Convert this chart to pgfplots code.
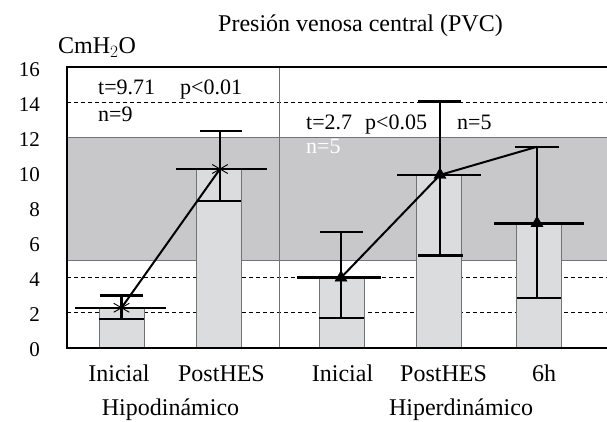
\documentclass[border=0pt]{standalone}
\usepackage{pgfplots}
\pgfplotsset{compat=1.18}
\usepackage{fontspec}
\setmainfont{Liberation Serif}
\definecolor{band}{RGB}{200,200,202}
\definecolor{barfill}{RGB}{219,220,222}
\definecolor{baredge}{RGB}{115,115,115}
\begin{document}
\begin{tikzpicture}
\useasboundingbox (0,0) rectangle (607pt,421pt);
\begin{axis}[
  at={(67pt,73.5pt)}, anchor=south west,
  scale only axis, width=540pt, height=280pt,
  xmin=67, xmax=607, ymin=0, ymax=16,
  clip=false,
  axis line style={draw=none},
  tick style={draw=none},
  xtick=\empty,
  ytick={0,2,...,16},
  /pgf/number format/assume math mode=true,
  yticklabel style={font=\fontsize{21}{25}\selectfont, anchor=east, inner sep=0pt, xshift=-27pt, yshift=-2pt},
  unbounded coords=jump,
]
% reference band
\addplot[fill=band, draw=baredge, line width=0.8pt] coordinates {(67,5) (607,5) (607,12) (67,12)} -- cycle;
% dashed reference lines
\draw[black, line width=0.8pt, dash pattern=on 4pt off 3pt] (67,2) -- (607,2);
\draw[black, line width=0.8pt, dash pattern=on 4pt off 3pt] (67,4) -- (607,4);
\draw[black, line width=0.8pt, dash pattern=on 4pt off 3pt] (67,14) -- (607,14);
% separator
\draw[baredge, line width=1pt] (279.5,0) -- (279.5,16);
% bars
\addplot[ybar, bar width=45, fill=barfill, draw=baredge, line width=1pt]
  coordinates {(121.5,2.27) (219,10.2) (341.5,3.99) (438.5,9.86) (539,7.1)};
% mean lines
\addplot[draw=none, mark=none, error bars/.cd, x dir=both, x explicit, error mark=none,
  error bar style={line width=2.5pt, black}]
  coordinates {(120.5,2.27) +- (45.5,0) (221.5,10.2) +- (45.5,0) (339,3.99) +- (42,0) (439,9.86) +- (42,0) (539,7.1) +- (45,0)};
% error bars: vertical stems
\addplot[black, line width=2.5pt, mark=none]
  coordinates {(121.5,1.63) (121.5,2.96) (121.5,nan)
               (220,8.37) (220,12.37) (220,nan)
               (341,1.70) (341,6.60) (341,nan)
               (440,5.25) (440,14.07) (440,nan)
               (537,2.83) (537,11.47)};
% error bars: caps
\addplot[black, line width=2.5pt, mark=none]
  coordinates {(100,2.96) (143,2.96) (0,nan) (99,1.63) (144,1.63) (0,nan)
               (200,12.37) (242,12.37) (0,nan) (197,8.37) (241,8.37) (0,nan)
               (320,6.60) (363,6.60) (0,nan) (319,1.70) (364,1.70) (0,nan)
               (418,14.07) (461,14.07) (0,nan) (418,5.25) (463,5.25) (0,nan)
               (515,11.47) (559,11.47) (0,nan) (517,2.83) (561,2.83)};
% connecting lines
\addplot[black, line width=2pt, mark=asterisk, mark size=9pt, mark options={line width=0.9pt}]
  coordinates {(121.5,2.27) (220,10.2)};
\addplot[black, line width=2pt, mark=none]
  coordinates {(341,3.99) (440,9.86) (537,11.47)};
\addplot[only marks, mark=triangle*, mark size=7pt, black]
  coordinates {(341,3.99) (440,9.86) (537,7.1)};
% frame
\draw[black, line width=2pt] (607,16) -- (67,16) -- (67,0) -- (607,0);
% annotations
\node[anchor=base west, inner sep=0pt, font=\fontsize{22}{26}\selectfont] at (98,14.43) {t=9.71};
\node[anchor=base west, inner sep=0pt, font=\fontsize{22}{26}\selectfont] at (180,14.43) {p<0.01};
\node[anchor=base west, inner sep=0pt, font=\fontsize{22}{26}\selectfont] at (98,12.89) {n=9};
\node[anchor=base west, inner sep=0pt, font=\fontsize{22}{26}\selectfont] at (306,12.43) {t=2.7};
\node[anchor=base west, inner sep=0pt, font=\fontsize{22}{26}\selectfont] at (365,12.43) {p<0.05};
\node[anchor=base west, inner sep=0pt, font=\fontsize{22}{26}\selectfont] at (457,12.43) {n=5};
\node[anchor=base west, inner sep=0pt, font=\fontsize{22}{26}\selectfont, white] at (306,11.11) {n=5};
% title and unit
\node[anchor=base, inner sep=0pt, font=\fontsize{24}{28}\selectfont] at (360.5,18.03) {Presión venosa central (PVC)};
\node[anchor=base west, inner sep=0pt, font=\fontsize{24}{28}\selectfont] at (58,16.81) {CmH$_2$O};
% category labels
\node[anchor=base, inner sep=0pt, font=\fontsize{24}{28}\selectfont] at (119,-1.97) {Inicial};
\node[anchor=base, inner sep=0pt, font=\fontsize{24}{28}\selectfont] at (221.5,-1.97) {PostHES};
\node[anchor=base, inner sep=0pt, font=\fontsize{24}{28}\selectfont] at (342.5,-1.97) {Inicial};
\node[anchor=base, inner sep=0pt, font=\fontsize{24}{28}\selectfont] at (443.5,-1.97) {PostHES};
\node[anchor=base, inner sep=0pt, font=\fontsize{24}{28}\selectfont] at (544,-1.97) {6h};
\node[anchor=base, inner sep=0pt, font=\fontsize{24}{28}\selectfont] at (170.5,-3.91) {Hipodinámico};
\node[anchor=base, inner sep=0pt, font=\fontsize{24}{28}\selectfont] at (461,-3.91) {Hiperdinámico};
\end{axis}
\end{tikzpicture}
\end{document}
